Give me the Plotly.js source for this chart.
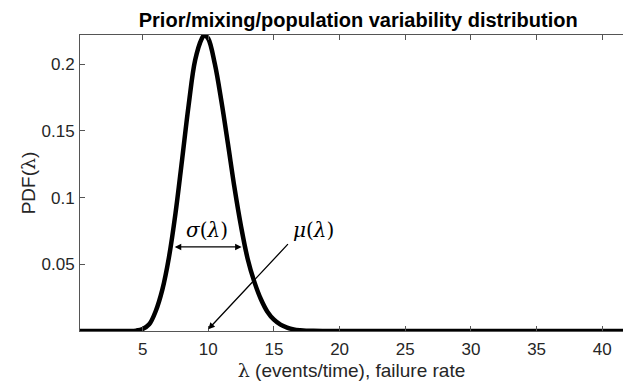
<!DOCTYPE html>
<html>
<head>
<meta charset="utf-8">
<script src="https://cdn.plot.ly/plotly-3.0.1.min.js"></script>
<style>html,body{margin:0;padding:0;background:#fff;}#chart{width:623px;height:381px;}</style>
</head>
<body>
<div id="chart"></div>
<script>
// values
const lambdaValues = [0.23, 3.0, 4.0, 4.5, 5.0, 5.5, 6.0, 6.5, 7.0, 7.5, 8.0, 8.5, 9.0, 9.5, 9.7, 10.0, 10.5, 11.0, 11.5, 12.0, 12.5, 13.0, 13.5, 14.0, 14.5, 15.0, 15.5, 16.0, 16.5, 17.0, 18.0, 19.0, 25.0, 41.6];
const pdfValues    = [0, 0, 0, 0.0003, 0.0015, 0.005, 0.015, 0.031, 0.055, 0.088, 0.128, 0.169, 0.203, 0.219, 0.2218, 0.219, 0.200, 0.172, 0.140, 0.107, 0.078, 0.054, 0.037, 0.024, 0.0145, 0.0085, 0.0048, 0.0026, 0.0012, 0.0006, 0.0001, 0, 0, 0];
const xTickVals = [5, 10, 15, 20, 25, 30, 35, 40];
const yTickVals = [0.05, 0.1, 0.15, 0.2];
const yTickText = ['0.05', '0.1', '0.15', '0.2'];
const sigmaArrow = {x0: 7.33, x1: 12.54, y: 0.063};
const muArrow = {xTail: 16.17, yTail: 0.0662, xTip: 10.0, yTip: 0.0013};
const sigmaLabel = {x: 9.87, y: 0.0757};
const muLabel = {x: 17.98, y: 0.0757};

const sans = 'Liberation Sans, Arial, sans-serif';
const serif = 'DejaVu Serif, Liberation Serif, serif';

const trace = {
  x: lambdaValues, y: pdfValues, type: 'scatter', mode: 'lines',
  line: {color: '#000', width: 4.5, shape: 'spline', smoothing: 1},
  hoverinfo: 'skip'
};

const layout = {
  width: 623, height: 381,
  margin: {l: 80, r: 0, t: 35, b: 50},
  paper_bgcolor: '#fff', plot_bgcolor: '#fff',
  showlegend: false,
  title: {
    text: '<b>Prior/mixing/population variability distribution</b>',
    font: {family: 'Liberation Sans Narrow, ' + sans, size: 20, color: '#000'},
    xref: 'container', x: 0.575, xanchor: 'center',
    yref: 'container', y: 0.947, yanchor: 'middle'
  },
  xaxis: {
    range: [0.23, 41.58], tickvals: xTickVals, ticktext: xTickVals.map(String),
    ticks: 'inside', ticklen: 5, tickcolor: '#555', tickwidth: 1, ticklabelstandoff: 3,
    showline: true, linecolor: '#555', linewidth: 1, mirror: 'ticks',
    showgrid: false, zeroline: false,
    tickfont: {family: sans, size: 17, color: '#262626'},
    title: {text: '<span style="font-family:DejaVu Serif">λ</span> (events/time), failure rate', font: {family: sans, size: 19, color: '#262626'}, standoff: 2}
  },
  yaxis: {
    range: [0, 0.2218], tickvals: yTickVals, ticktext: yTickText,
    ticks: 'inside', ticklen: 5, tickcolor: '#555', tickwidth: 1, ticklabelstandoff: 1,
    showline: true, linecolor: '#555', linewidth: 1, mirror: false,
    showgrid: false, zeroline: false,
    tickfont: {family: sans, size: 17, color: '#262626'},
    title: {text: 'PDF(<span style="font-family:DejaVu Serif">λ</span>)', font: {family: sans, size: 19, color: '#262626'}, standoff: 0}
  },
  annotations: [
    {x: sigmaArrow.x1, y: sigmaArrow.y, ax: sigmaArrow.x0, ay: sigmaArrow.y, axref: 'x', ayref: 'y', xref: 'x', yref: 'y',
     text: '', showarrow: true, arrowhead: 2, startarrowhead: 2, arrowside: 'end+start', arrowsize: 1, arrowwidth: 1.3, arrowcolor: '#000', standoff: 0, startstandoff: 0},
    {x: muArrow.xTip, y: muArrow.yTip, ax: muArrow.xTail, ay: muArrow.yTail, axref: 'x', ayref: 'y', xref: 'x', yref: 'y',
     text: '', showarrow: true, arrowhead: 2, arrowsize: 1, arrowwidth: 1.3, arrowcolor: '#000', standoff: 0},
    {x: sigmaLabel.x, y: sigmaLabel.y, xref: 'x', yref: 'y', text: '<i>σ</i>(<i>λ</i>)', showarrow: false,
     font: {family: serif, size: 20, color: '#000'}},
    {x: muLabel.x, y: muLabel.y, xref: 'x', yref: 'y', text: '<i>μ</i>(<i>λ</i>)', showarrow: false,
     font: {family: serif, size: 20, color: '#000'}}
  ]
};

Plotly.newPlot('chart', [trace], layout, {displayModeBar: false, staticPlot: true});
</script>
</body>
</html>
